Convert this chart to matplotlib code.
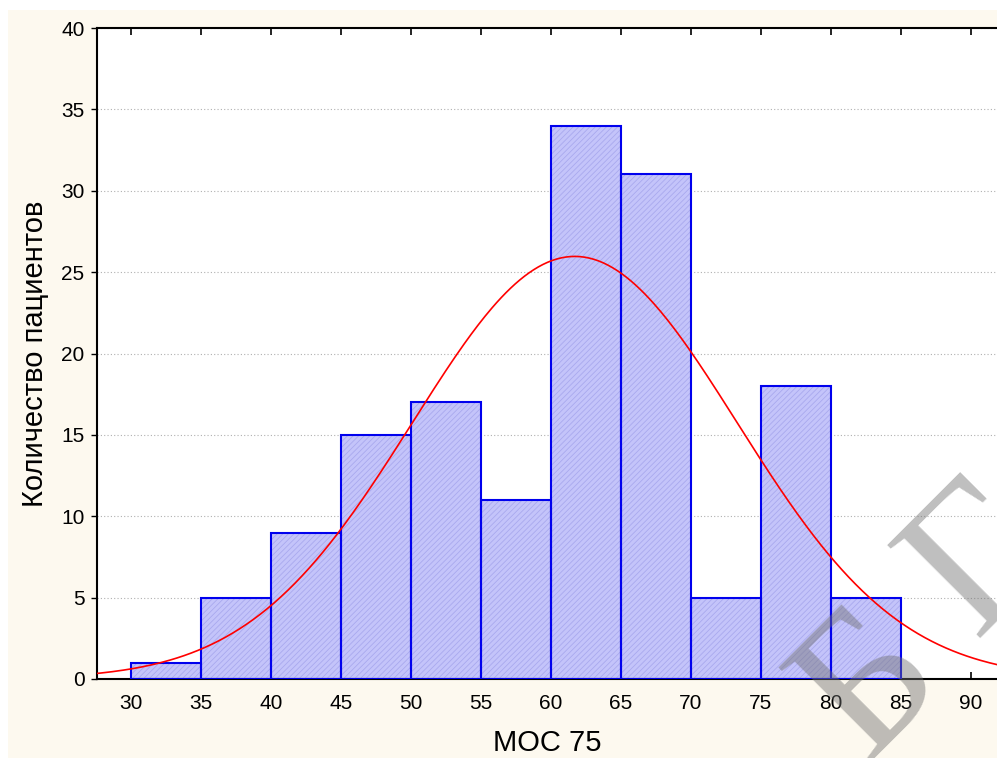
import numpy as np
import matplotlib.pyplot as plt
from matplotlib.patches import Rectangle

plt.rcParams['font.family'] = ['Liberation Sans', 'DejaVu Sans']
plt.rcParams['hatch.linewidth'] = 0.6

# Гістограма МОС 75
bin_left = [30, 35, 40, 45, 50, 55, 60, 65, 70, 75, 80]
counts = [1, 5, 9, 15, 17, 11, 34, 31, 5, 18, 5]
bin_width = 5
x_ticks = [30, 35, 40, 45, 50, 55, 60, 65, 70, 75, 80, 85, 90]
y_ticks = [0, 5, 10, 15, 20, 25, 30, 35, 40]
mean_val = 61.7
std_val = 11.6

fig = plt.figure(figsize=(9.97, 7.58), dpi=100, facecolor='white')
fig.patches.append(Rectangle((8 / 997, 0), 1, 1 - 10 / 758, transform=fig.transFigure,
                             facecolor='#fdf9ef', edgecolor='none', zorder=-10))
ax = fig.add_axes([97 / 997, 79 / 758, 1 - 97 / 997, (679 - 28) / 758])
ax.set_facecolor('white')

ax.bar(bin_left, counts, width=bin_width, align='edge', color='#c4c4fa',
       edgecolor='#a9a9ee', hatch='//////', linewidth=0, zorder=2)
ax.bar(bin_left, counts, width=bin_width, align='edge', fill=False,
       edgecolor='#0000ee', linewidth=1.5, zorder=3)

xs = np.linspace(27, 93, 400)
n_total = sum(counts)
ys = n_total * bin_width / (std_val * np.sqrt(2 * np.pi)) * np.exp(-0.5 * ((xs - mean_val) / std_val) ** 2)
ax.plot(xs, ys, color='#ff0000', linewidth=1.2, zorder=4)

ax.set_xlim(27.57, 91.86)
ax.set_ylim(0, 40)
ax.set_xticks(x_ticks)
ax.set_yticks(y_ticks)
ax.tick_params(axis='x', direction='in', top=True, length=5, width=1.2, labelsize=15, pad=11)
ax.tick_params(axis='y', direction='out', length=4, width=1, labelsize=15, pad=5)
ax.yaxis.grid(True, linestyle=(0, (1, 2)), color='#b0b0b0', linewidth=0.8, zorder=0)
ax.set_axisbelow(True)
for side in ['left', 'bottom', 'top']:
    ax.spines[side].set_linewidth(1.5)
ax.spines['right'].set_visible(False)

ax.set_xlabel('МОС 75', fontsize=21, labelpad=11)
ax.set_ylabel('Количество пациентов', fontsize=21, labelpad=9)

# водяний знак
wm_letters = ['Б', 'Г', 'М']
wm_pos = [(0.868, -0.005), (0.978, 0.158), (1.095, 0.312)]
for letter, (px, py) in zip(wm_letters, wm_pos):
    fig.text(px, py, letter, fontsize=145, family='Liberation Serif', color='#707070',
             alpha=0.45, rotation=45, rotation_mode='anchor', ha='left', va='baseline', zorder=10)

fig.savefig('out.png', dpi=100, facecolor=fig.get_facecolor())
